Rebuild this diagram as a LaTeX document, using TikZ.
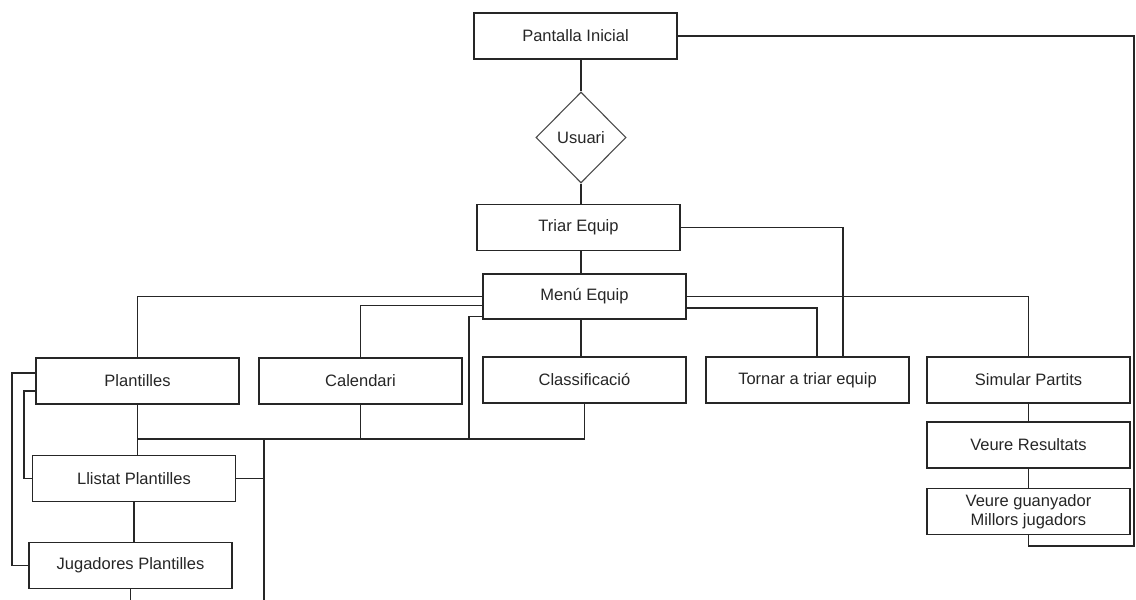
\documentclass[tikz,border=0pt]{standalone}
\usepackage{fontspec}
\setmainfont{Liberation Sans}
\usetikzlibrary{shapes.geometric}
\begin{document}
\begin{tikzpicture}[x=1pt,y=-1pt,
  line width=1.5pt,
  every node/.style={font=\fontsize{16.5}{20}\selectfont, text=black!85},
  box/.style={draw=black!85, rectangle, minimum width=203pt, minimum height=46pt, inner sep=2pt},
  dia/.style={draw=black!70, line width=1.1pt, diamond, minimum width=90pt, minimum height=91pt, inner sep=0pt},
  conn/.style={draw=black!85, line width=1.5pt}]
\useasboundingbox (0,0) rectangle (1136,600);
\fill[white] (0,0) rectangle (1136,600);

\node[box] (pant) at (575.5,36) {Pantalla Inicial};
\node[dia] (usu) at (581,137.5) {Usuari};
\node[box] (tri) at (578.5,227.5) {Triar Equip};
\node[box, minimum height=45pt] (menu) at (584.5,296.5) {Menú Equip};
\node[box] (plan) at (137.5,381) {Plantilles};
\node[box] (cal) at (360.5,381) {Calendari};
\node[box] (cla) at (584.5,380) {Classificació};
\node[box] (tor) at (807.5,380) {Tornar a triar equip};
\node[box] (sim) at (1028.5,380) {Simular Partits};
\node[box] (ver) at (1028.5,445) {Veure Resultats};
\node[box, align=center, font=\fontsize{16.5}{19}\selectfont] (gua) at (1028.5,511.5) {Veure guanyador\\Millors jugadors};
\node[box] (lli) at (134,478.5) {Llistat Plantilles};
\node[box] (jug) at (130.5,565.5) {Jugadores Plantilles};

\coordinate (cR) at (1134,546);
\coordinate (bus) at (0,439);
\coordinate (m3) at (469,439);
\coordinate (v1) at (264,439);
\coordinate (v2) at (264,600);
\coordinate (la) at (12,0);
\coordinate (lb) at (24,0);

% spine
\draw[conn] (usu.north |- pant.south) -- (usu.north);
\draw[conn] (usu.south) -- (usu.south |- tri.north);
\draw[conn] (usu.south |- tri.south) -- (usu.south |- menu.north);
\draw[conn] (usu.south |- menu.south) -- (usu.south |- cla.north);

% right loops
\draw[conn] (pant.east) -| (cR) -| (gua.south);
\draw[conn] (tri.east) -| ([xshift=35.5pt]tor.north);
\draw[conn] (menu.east) -| (sim.north);
\draw[conn] ([yshift=-11.5pt]menu.east) -| ([xshift=9.5pt]tor.north);

% left branches
\draw[conn] (menu.west) -| (plan.north);
\draw[conn] ([yshift=-9pt]menu.west) -| (cal.north);
\draw[conn] ([yshift=-20pt]menu.west) -| (m3);

% bus
\draw[conn] (cla.south) -- (cla.south |- bus) -- (plan.south |- bus);
\draw[conn] (cal.south) -- (cal.south |- bus);
\draw[conn] (plan.south) -- (plan.south |- lli.north);
\draw[conn] (v1) -- (v2);
\draw[conn] (lli.east) -- (lli.east -| v1);
\draw[conn] (lli.south) -- (lli.south |- jug.north);
\draw[conn] (jug.south) -- (jug.south |- v2);

% left loops
\draw[conn] ([yshift=8pt]plan.west) -| (la |- jug.west) -- (jug.west);
\draw[conn] ([yshift=-10pt]plan.west) -| (lb |- lli.west) -- (lli.west);

% simulate chain
\draw[conn] (sim.south) -- (ver.north);
\draw[conn] (ver.south) -- (gua.north);
\end{tikzpicture}
\end{document}
